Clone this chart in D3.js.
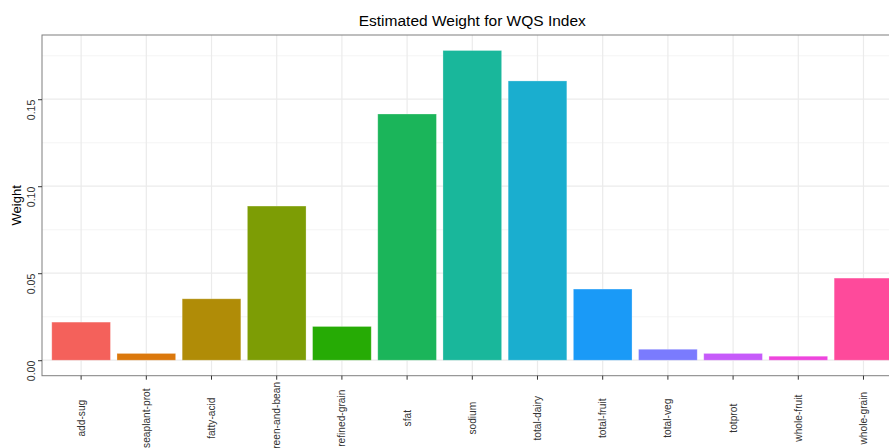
<!DOCTYPE html>
<html>
<head>
<meta charset="utf-8">
<script src="https://cdn.jsdelivr.net/npm/d3@7"></script>
<style>
  body { margin: 0; background: #fff; }
  svg { display: block; font-family: "Liberation Sans", Arial, sans-serif; }
</style>
</head>
<body>
<div id="chart"></div>
<script>
// Categories (food components) and estimated weights
var components = ["add-sug", "seaplant-prot", "fatty-acid", "green-and-bean", "refined-grain",
    "sfat", "sodium", "total-dairy", "total-fruit", "total-veg", "totprot", "whole-fruit", "whole-grain"];
var weights = [0.0219, 0.0039, 0.0353, 0.0886, 0.0194, 0.1415, 0.1780, 0.1605, 0.0409,
    0.0063, 0.0039, 0.0023, 0.0472];
var barColors = ["#F4615B", "#DB780C", "#B08C07", "#7D9D05", "#26AB05", "#1BB55A", "#19B79B",
    "#1AAECF", "#1A9AF7", "#7A7BFE", "#C65BFA", "#EE45DD", "#FE4A9B"];
var yTicks = [0, 0.05, 0.10, 0.15];
var yMinor = [0.025, 0.075, 0.125, 0.175];

function init() {
    var w = 889;
    var h = 448;
    var left = 42, top = 35, bottom = 375.7, right = 902.6;

    var svg = d3.select("#chart")
        .append("svg")
        .attr("width", w)
        .attr("height", h);

    // Discrete x scale (ggplot-like expansion)
    var x = d3.scaleBand()
        .domain(components)
        .range([left, right])
        .paddingInner(0.1)
        .paddingOuter(0.15);

    // y scale with 5% expansion on each side
    var maxW = d3.max(weights);
    var pad = maxW * 0.05;
    var y = d3.scaleLinear()
        .domain([-pad, maxW + pad])
        .range([bottom, top]);

    var cx = function (d) { return x(d) + x.bandwidth() / 2; };

    // Grid lines
    svg.append("g").selectAll("line")
        .data(yMinor)
        .enter().append("line")
        .attr("x1", left).attr("x2", right)
        .attr("y1", d => y(d)).attr("y2", d => y(d))
        .attr("stroke", "#F2F2F2").attr("stroke-width", 0.8);

    svg.append("g").selectAll("line")
        .data(yTicks)
        .enter().append("line")
        .attr("x1", left).attr("x2", right)
        .attr("y1", d => y(d)).attr("y2", d => y(d))
        .attr("stroke", "#EBEBEB").attr("stroke-width", 1.2);

    svg.append("g").selectAll("line")
        .data(components)
        .enter().append("line")
        .attr("x1", cx).attr("x2", cx)
        .attr("y1", top).attr("y2", bottom)
        .attr("stroke", "#EBEBEB").attr("stroke-width", 1.2);

    // Bars
    svg.append("g").selectAll("rect")
        .data(components)
        .enter().append("rect")
        .attr("x", d => x(d))
        .attr("width", x.bandwidth())
        .attr("y", (d, i) => y(weights[i]))
        .attr("height", (d, i) => y(0) - y(weights[i]))
        .attr("fill", (d, i) => barColors[i])
        .attr("stroke", "rgba(255,255,255,0.35)")
        .attr("stroke-width", 0.8);

    // Panel border
    svg.append("rect")
        .attr("x", left).attr("y", top)
        .attr("width", right - left).attr("height", bottom - top)
        .attr("fill", "none")
        .attr("stroke", "#7F7F7F")
        .attr("stroke-width", 1);

    // Axes
    var yAxis = svg.append("g")
        .attr("transform", "translate(" + left + ",0)")
        .call(d3.axisLeft(y).tickValues(yTicks).tickFormat(d3.format(".2f")).tickSize(4).tickPadding(3));
    yAxis.select(".domain").remove();
    yAxis.selectAll(".tick line").attr("stroke", "#333");
    yAxis.selectAll(".tick text")
        .attr("font-size", "10.5px")
        .attr("fill", "#333")
        .attr("text-anchor", "end")
        .attr("x", 0).attr("dy", 0)
        .attr("transform", "translate(-7,0) rotate(-90)");

    var xAxis = svg.append("g")
        .attr("transform", "translate(0," + bottom + ")")
        .call(d3.axisBottom(x).tickSize(4).tickPadding(3));
    xAxis.select(".domain").remove();
    xAxis.selectAll(".tick line").attr("stroke", "#333");
    xAxis.selectAll(".tick text")
        .attr("font-size", "10.2px")
        .attr("fill", "#333")
        .attr("text-anchor", "middle")
        .attr("y", 0).attr("dy", "0.35em")
        .attr("transform", "translate(0,42.5) rotate(-90)");

    // Title
    svg.append("text")
        .attr("x", (left + right) / 2)
        .attr("y", 26)
        .attr("text-anchor", "middle")
        .attr("font-size", "15.5px")
        .attr("fill", "#000")
        .text("Estimated Weight for WQS Index");

    // Y label
    svg.append("text")
        .attr("transform", "translate(21," + ((top + bottom) / 2) + ") rotate(-90)")
        .attr("text-anchor", "middle")
        .attr("font-size", "13px")
        .attr("fill", "#000")
        .text("Weight");
}

window.onload = init;
</script>
</body>
</html>
